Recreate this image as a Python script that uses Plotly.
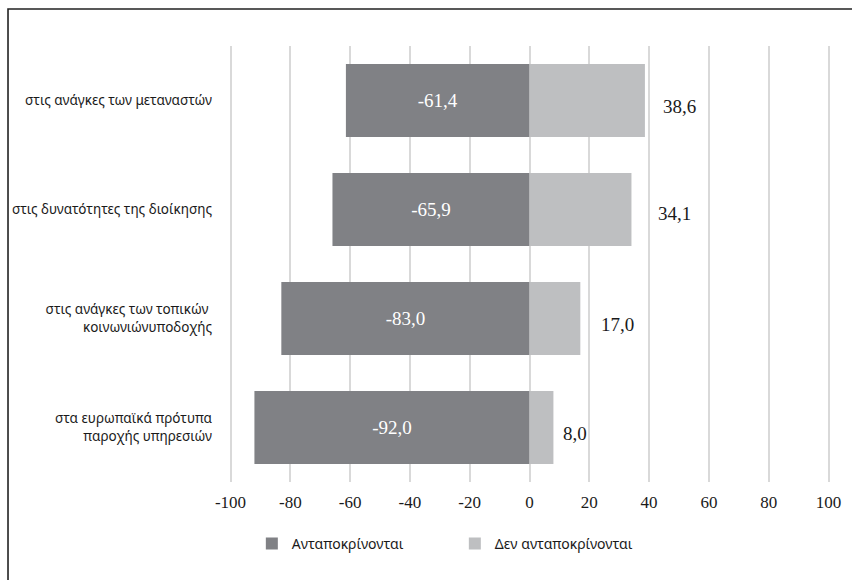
import plotly.graph_objects as go

# Survey categories (top to bottom) and the two response shares
categories = [
    "στις ανάγκες των μεταναστών",
    "στις δυνατότητες της διοίκησης",
    "στις ανάγκες των τοπικών <br>κοινωνιώνυποδοχής",
    "στα ευρωπαϊκά πρότυπα<br>παροχής υπηρεσιών",
]
respond = [-61.4, -65.9, -83.0, -92.0]
not_respond = [38.6, 34.1, 17.0, 8.0]
series_names = ["Ανταποκρίνονται", "Δεν ανταποκρίνονται"]
tick_values = [-100, -80, -60, -40, -20, 0, 20, 40, 60, 80, 100]

# label nudges for the positive-side values (pixels)
label_dx = [16, 25, 19, 8]
label_dy = [-6, -4, -6, -6]

DARK = "#808185"
LIGHT = "#bebfc1"
SERIF = "Liberation Serif"
SANS = "Noto Sans"


def fmt(v):
    return f"{v:.1f}".replace(".", ",")


fig = go.Figure()
fig.add_trace(go.Bar(
    y=categories, x=respond, orientation="h", name=series_names[0],
    marker=dict(color=DARK, line=dict(width=0)),
    text=[fmt(v) for v in respond], textposition="inside",
    insidetextanchor="middle",
    textfont=dict(family=SERIF, size=19, color="white"),
    hoverinfo="x+y",
))
fig.add_trace(go.Bar(
    y=categories, x=not_respond, orientation="h", name=series_names[1],
    marker=dict(color=LIGHT, line=dict(width=0)),
    hoverinfo="x+y",
))

for cat, v, dx, dy in zip(categories, not_respond, label_dx, label_dy):
    fig.add_annotation(
        x=v, y=cat, text=fmt(v), showarrow=False, xanchor="left",
        xshift=dx, yshift=dy,
        font=dict(family=SERIF, size=19, color="#1a1a1a"),
    )

# outer frame of the chart
fig.add_shape(
    type="rect", xref="paper", yref="paper",
    x0=-0.3677, y0=-0.35, x1=1.15, y1=1.0849,
    line=dict(color="#222222", width=1.6), fillcolor="rgba(0,0,0,0)",
    layer="below",
)

fig.update_layout(
    width=852, height=580,
    margin=dict(l=229, r=22, t=46, b=98, autoexpand=False),
    paper_bgcolor="white", plot_bgcolor="white",
    barmode="relative", bargap=0.33,
    showlegend=True,
    legend=dict(
        orientation="h", x=0.038, xanchor="left", y=-0.142, yanchor="middle",
        entrywidth=158, entrywidthmode="pixels",
        font=dict(family=SANS, size=14, color="#1a1a1a"),
        bgcolor="rgba(0,0,0,0)",
    ),
    xaxis=dict(
        range=[-100.5, 100.5], tickvals=tick_values,
        ticktext=[str(v) for v in tick_values],
        showgrid=True, gridcolor="#d9d9d9", gridwidth=1.6,
        zeroline=False, showline=False, ticks="",
        ticklabelstandoff=8, automargin=False,
        tickfont=dict(family=SERIF, size=17, color="#1a1a1a"),
        fixedrange=True,
    ),
    yaxis=dict(
        categoryorder="array", categoryarray=categories[::-1],
        showgrid=False, zeroline=False, showline=False, ticks="",
        ticklabelstandoff=16, automargin=False,
        tickfont=dict(family=SANS, size=13.5, color="#1a1a1a"),
        fixedrange=True,
    ),
)

fig.write_html("out.html")
